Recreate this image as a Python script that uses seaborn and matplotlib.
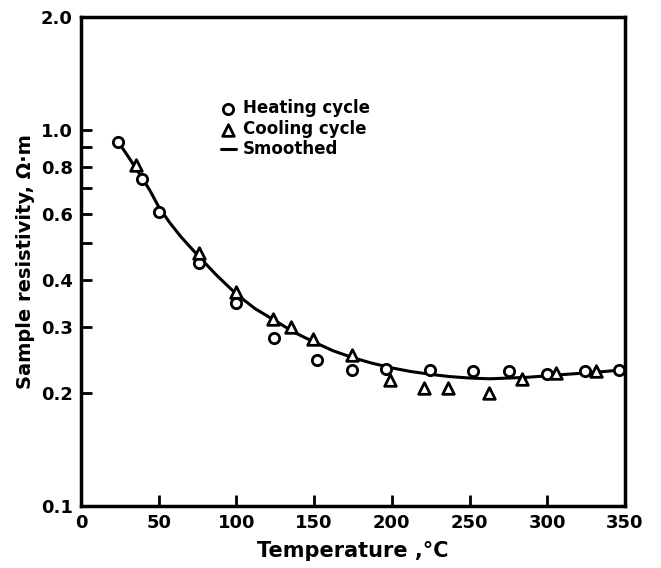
import matplotlib
matplotlib.use("Agg")
import matplotlib.pyplot as plt
import matplotlib.ticker as mticker
import seaborn as sns
import pandas as pd

# ---- data ----
heat_T = [24, 39, 50, 76, 99.5, 124, 152, 174.5, 196.5, 224.5, 252.5, 275.5, 299.5, 324.5, 346]
heat_R = [0.93, 0.74, 0.607, 0.442, 0.346, 0.280, 0.245, 0.230, 0.232, 0.230, 0.228, 0.228, 0.225, 0.228, 0.230]

cool_T = [35.5, 76, 99.5, 123.5, 135, 149, 174.5, 198.5, 221, 236, 262.5, 283.5, 305.5, 331.5]
cool_R = [0.808, 0.470, 0.370, 0.314, 0.299, 0.278, 0.252, 0.216, 0.206, 0.206, 0.200, 0.218, 0.226, 0.229]

smooth_T = [24, 30, 37, 44, 50, 57, 64, 70, 75, 87, 100, 112, 125, 137, 150, 162, 175, 187, 200,
            212, 225, 237, 250, 263, 275, 287, 300, 312, 325, 337, 347]
smooth_R = [0.93, 0.855, 0.772, 0.695, 0.625, 0.568, 0.522, 0.490, 0.465, 0.412, 0.366, 0.335, 0.311,
            0.290, 0.273, 0.259, 0.248, 0.240, 0.233, 0.228, 0.224, 0.221, 0.219, 0.218, 0.219,
            0.220, 0.222, 0.224, 0.226, 0.228, 0.230]

y_major = [0.1, 0.2, 0.3, 0.4, 0.6, 0.8, 1.0, 2.0]
y_major_labels = ["0.1", "0.2", "0.3", "0.4", "0.6", "0.8", "1.0", "2.0"]
y_minor = [0.5, 0.7, 0.9]
x_ticks = [0, 50, 100, 150, 200, 250, 300, 350]

heat = pd.DataFrame({"T": heat_T, "R": heat_R})
cool = pd.DataFrame({"T": cool_T, "R": cool_R})
smooth = pd.DataFrame({"T": smooth_T, "R": smooth_R})

sns.set_theme(style="ticks")
plt.rcParams["font.family"] = ["DejaVu Sans"]
plt.rcParams["font.weight"] = "bold"
plt.rcParams["text.color"] = "black"
plt.rcParams["axes.labelcolor"] = "black"
plt.rcParams["xtick.color"] = "black"
plt.rcParams["ytick.color"] = "black"

fig = plt.figure(figsize=(6.61, 5.68), dpi=100)
ax = fig.add_axes([81 / 661, 1 - 506 / 568, 544 / 661, 489 / 568])

sns.lineplot(data=smooth, x="T", y="R", ax=ax, color="black", lw=2.2, label="Smoothed",
             sort=True, estimator=None)
sns.scatterplot(data=heat, x="T", y="R", ax=ax, marker="o", s=55, facecolor="white",
                edgecolor="black", linewidth=2.0, label="Heating cycle", zorder=3)
sns.scatterplot(data=cool, x="T", y="R", ax=ax, marker="^", s=70, facecolor="white",
                edgecolor="black", linewidth=2.0, label="Cooling cycle", zorder=3)

ax.set_yscale("log")
ax.set_xlim(0, 350)
ax.set_ylim(0.1, 2.0)
ax.set_xticks(x_ticks)
ax.set_xticklabels([str(t) for t in x_ticks])
ax.yaxis.set_major_locator(mticker.FixedLocator(y_major))
ax.yaxis.set_major_formatter(mticker.FixedFormatter(y_major_labels))
ax.yaxis.set_minor_locator(mticker.FixedLocator(y_minor))
ax.yaxis.set_minor_formatter(mticker.NullFormatter())

ax.tick_params(axis="both", which="major", direction="in", length=8, width=2,
               labelsize=13, pad=6, colors="black")
ax.tick_params(axis="y", which="minor", direction="in", length=8, width=2, colors="black")
ax.tick_params(axis="x", which="minor", bottom=False)
for lab in ax.get_xticklabels() + ax.get_yticklabels():
    lab.set_fontweight("bold")
for sp in ax.spines.values():
    sp.set_linewidth(2.5)
    sp.set_color("black")
    sp.set_visible(True)

ax.set_xlabel("Temperature ,°C", fontsize=15, fontweight="bold", labelpad=6, color="black")
ax.set_ylabel("Sample resistivity, Ω·m", fontsize=14, fontweight="bold", labelpad=4, color="black")

handles, labels = ax.get_legend_handles_labels()
order = [labels.index("Heating cycle"), labels.index("Cooling cycle"), labels.index("Smoothed")]
leg = ax.legend([handles[i] for i in order], [labels[i] for i in order],
                loc="upper left", bbox_to_anchor=(0.245, 0.845), frameon=False,
                handlelength=0.9, handletextpad=0.4, labelspacing=0.15,
                prop={"size": 12, "weight": "bold"}, borderaxespad=0, labelcolor="black")

fig.savefig("out.png", dpi=100, facecolor="white")
